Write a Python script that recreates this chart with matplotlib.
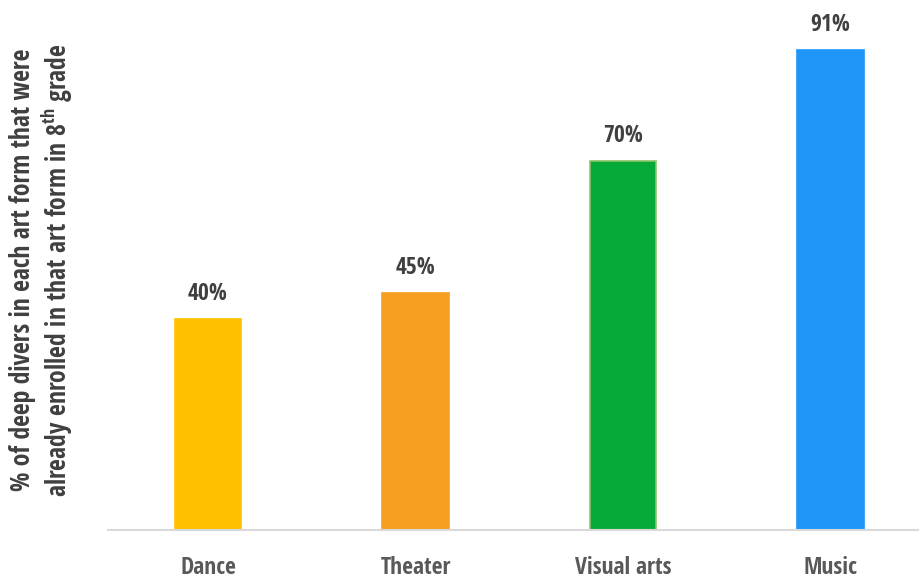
import matplotlib
matplotlib.use("Agg")
import matplotlib.pyplot as plt

categories = ["Dance", "Theater", "Visual arts", "Music"]
values = [40, 45, 70, 91]
bar_colors = ["#FFC000", "#F6A021", "#06AA38", "#1E96F7"]
edge_colors = ["#FFC000", "#F6A021", "#8CC46A", "#1E96F7"]
value_labels = ["40%", "45%", "70%", "91%"]

family = "Open Sans Condensed"
plt.rcParams["font.family"] = [family, "DejaVu Sans"]
plt.rcParams["mathtext.fontset"] = "custom"
plt.rcParams["mathtext.rm"] = f"{family}:bold"
plt.rcParams["mathtext.bf"] = f"{family}:bold"

fig = plt.figure(figsize=(9.2, 5.79), dpi=100)
W, H = 920, 579
left, right, base, top = 108, 920, 530, 3
ax = fig.add_axes([left / W, (H - base) / H, (right - left) / W, (base - top) / H])

x = range(len(categories))
ax.bar(x, values, width=0.32, color=bar_colors, edgecolor=edge_colors, linewidth=1.2, zorder=2)
for xi, v, lab in zip(x, values, value_labels):
    ax.annotate(lab, (xi, v), xytext=(0, 9.5), textcoords="offset points",
                ha="center", va="bottom", fontsize=17, fontweight="bold", color="#404040")

ax.set_xlim(-0.482, 3.431)
ax.set_ylim(0, 100)
ax.set_yticks([])
ax.set_xticks(list(x))
ax.set_xticklabels(categories, fontsize=17, fontweight="bold", color="#595959")
ax.tick_params(axis="x", length=0, pad=18.5)
for s in ["top", "right", "left"]:
    ax.spines[s].set_visible(False)
ax.spines["bottom"].set_color("#D9D9D9")
ax.spines["bottom"].set_linewidth(1.5)

fig.text(42 / W, (H - 270) / H,
         "% of deep divers in each art form that were\nalready enrolled in that art form in 8$^{\\mathrm{th}}$ grade",
         rotation=90, ha="center", va="center", fontsize=18.5, fontweight="bold",
         color="#404040", linespacing=1.15, multialignment="center")

fig.savefig("out.png", dpi=100)
